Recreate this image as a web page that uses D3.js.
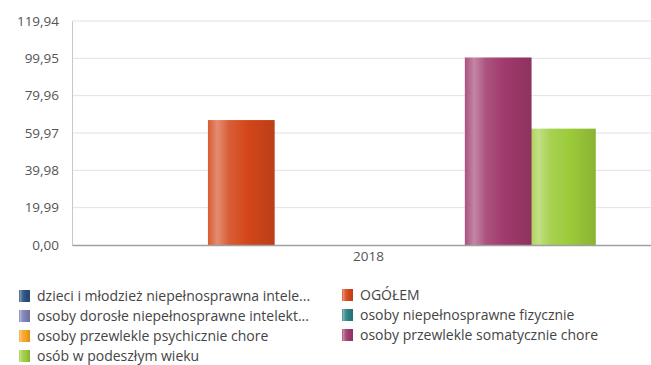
<!DOCTYPE html>
<html><head><meta charset="utf-8">
<script src="https://cdn.jsdelivr.net/npm/d3@7"></script>
<style>body{margin:0;background:#fff}svg{display:block}text{font-family:"Open Sans","Liberation Sans",Arial,sans-serif}</style>
</head><body><svg id="c" width="651" height="365"></svg>
<script>
const categories = ["2018"];
const seriesNames = ["dzieci i młodzież niepełnosprawna intele...","OGÓŁEM","osoby dorosłe niepełnosprawne intelekt...","osoby niepełnosprawne fizycznie","osoby przewlekle psychicznie chore","osoby przewlekle somatycznie chore","osób w podeszłym wieku"];
const seriesValues = [0, 66.9, 0, 0, 0, 100.4, 62.3];
const seriesColors = ["#2b4f80","#d4461a","#7c7fb6","#2b7f80","#f5a31f","#a03a6c","#9ccb3a"];
const yTicks = [0, 19.99, 39.98, 59.97, 79.96, 99.95, 119.94];

const svg = d3.select("#c");
const FONT = '"Open Sans","Liberation Sans",Arial,sans-serif';
const L = 72, R = 665, T = 21, B = 245;
const x = d3.scaleBand().domain(categories).range([L, R]).paddingOuter(0.1595).paddingInner(0);
const xs = d3.scaleBand().domain(seriesNames).range([0, x.bandwidth()]);
const y = d3.scaleLinear().domain([0, 119.94]).range([B, T]);
const fmt = v => d3.format(".2f")(v).replace(".", ",");

const defs = svg.append("defs");
seriesColors.forEach((c, i) => {
  const base = d3.color(c);
  const lighten = t => d3.interpolateRgb(c, "#fff")(t);
  const g = defs.append("linearGradient").attr("id", "g" + i).attr("x1", 0).attr("x2", 1).attr("y1", 0).attr("y2", 0);
  g.append("stop").attr("offset", "0%").attr("stop-color", lighten(0.12));
  g.append("stop").attr("offset", "14%").attr("stop-color", lighten(0.38));
  g.append("stop").attr("offset", "32%").attr("stop-color", lighten(0.12));
  g.append("stop").attr("offset", "60%").attr("stop-color", c);
  g.append("stop").attr("offset", "100%").attr("stop-color", base.darker(0.35));
});

// gridlines
svg.append("g").selectAll("line").data(yTicks.slice(1)).join("line")
  .attr("x1", L).attr("x2", 651).attr("y1", d => y(d)).attr("y2", d => y(d))
  .attr("stroke", "#e2e2e2").attr("stroke-width", 1);

// y axis
const ya = svg.append("g").attr("transform", `translate(${L},0)`)
  .call(d3.axisLeft(y).tickValues(yTicks).tickFormat(fmt).tickSize(0).tickPadding(13));
ya.select(".domain").attr("stroke", "#c8c8c8");
ya.selectAll("text").attr("font-size", 13.5).attr("fill", "#555").style("font-family", FONT);

// bars (drawn last series first so earlier bars overlap slightly)
const grp = svg.append("g").selectAll("g").data(categories).join("g").attr("transform", d => `translate(${x(d)},0)`);
grp.selectAll("rect").data(() => seriesNames.map((n, i) => ({n, v: seriesValues[i], i})).reverse()).join("rect")
  .attr("x", d => xs(d.n)).attr("width", xs.bandwidth() + 2.5)
  .attr("y", d => y(d.v)).attr("height", d => B - y(d.v))
  .attr("fill", d => `url(#g${d.i})`);

// x axis
const xa = svg.append("g").attr("transform", `translate(0,${B})`)
  .call(d3.axisBottom(x).tickSize(0).tickPadding(6));
xa.select(".domain").attr("stroke", "#a0a0a0").attr("stroke-width", 1.5);
xa.selectAll("text").attr("font-size", 13.5).attr("fill", "#555").style("font-family", FONT);

// legend
const legPos = [[19,296],[342,295],[19,316],[342,315],[19,336],[342,335],[19,356]];
const lg = svg.append("g").selectAll("g").data(seriesNames).join("g")
  .attr("transform", (d, i) => `translate(${legPos[i][0]},${legPos[i][1]})`);
lg.append("rect").attr("x", 0).attr("y", -6).attr("width", 11).attr("height", 12)
  .attr("fill", (d, i) => `url(#g${i})`);
lg.append("text").attr("x", 18).attr("y", 0).attr("dy", "0.35em").attr("font-size", 14)
  .attr("fill", "#444").text(d => d);
</script></body></html>
